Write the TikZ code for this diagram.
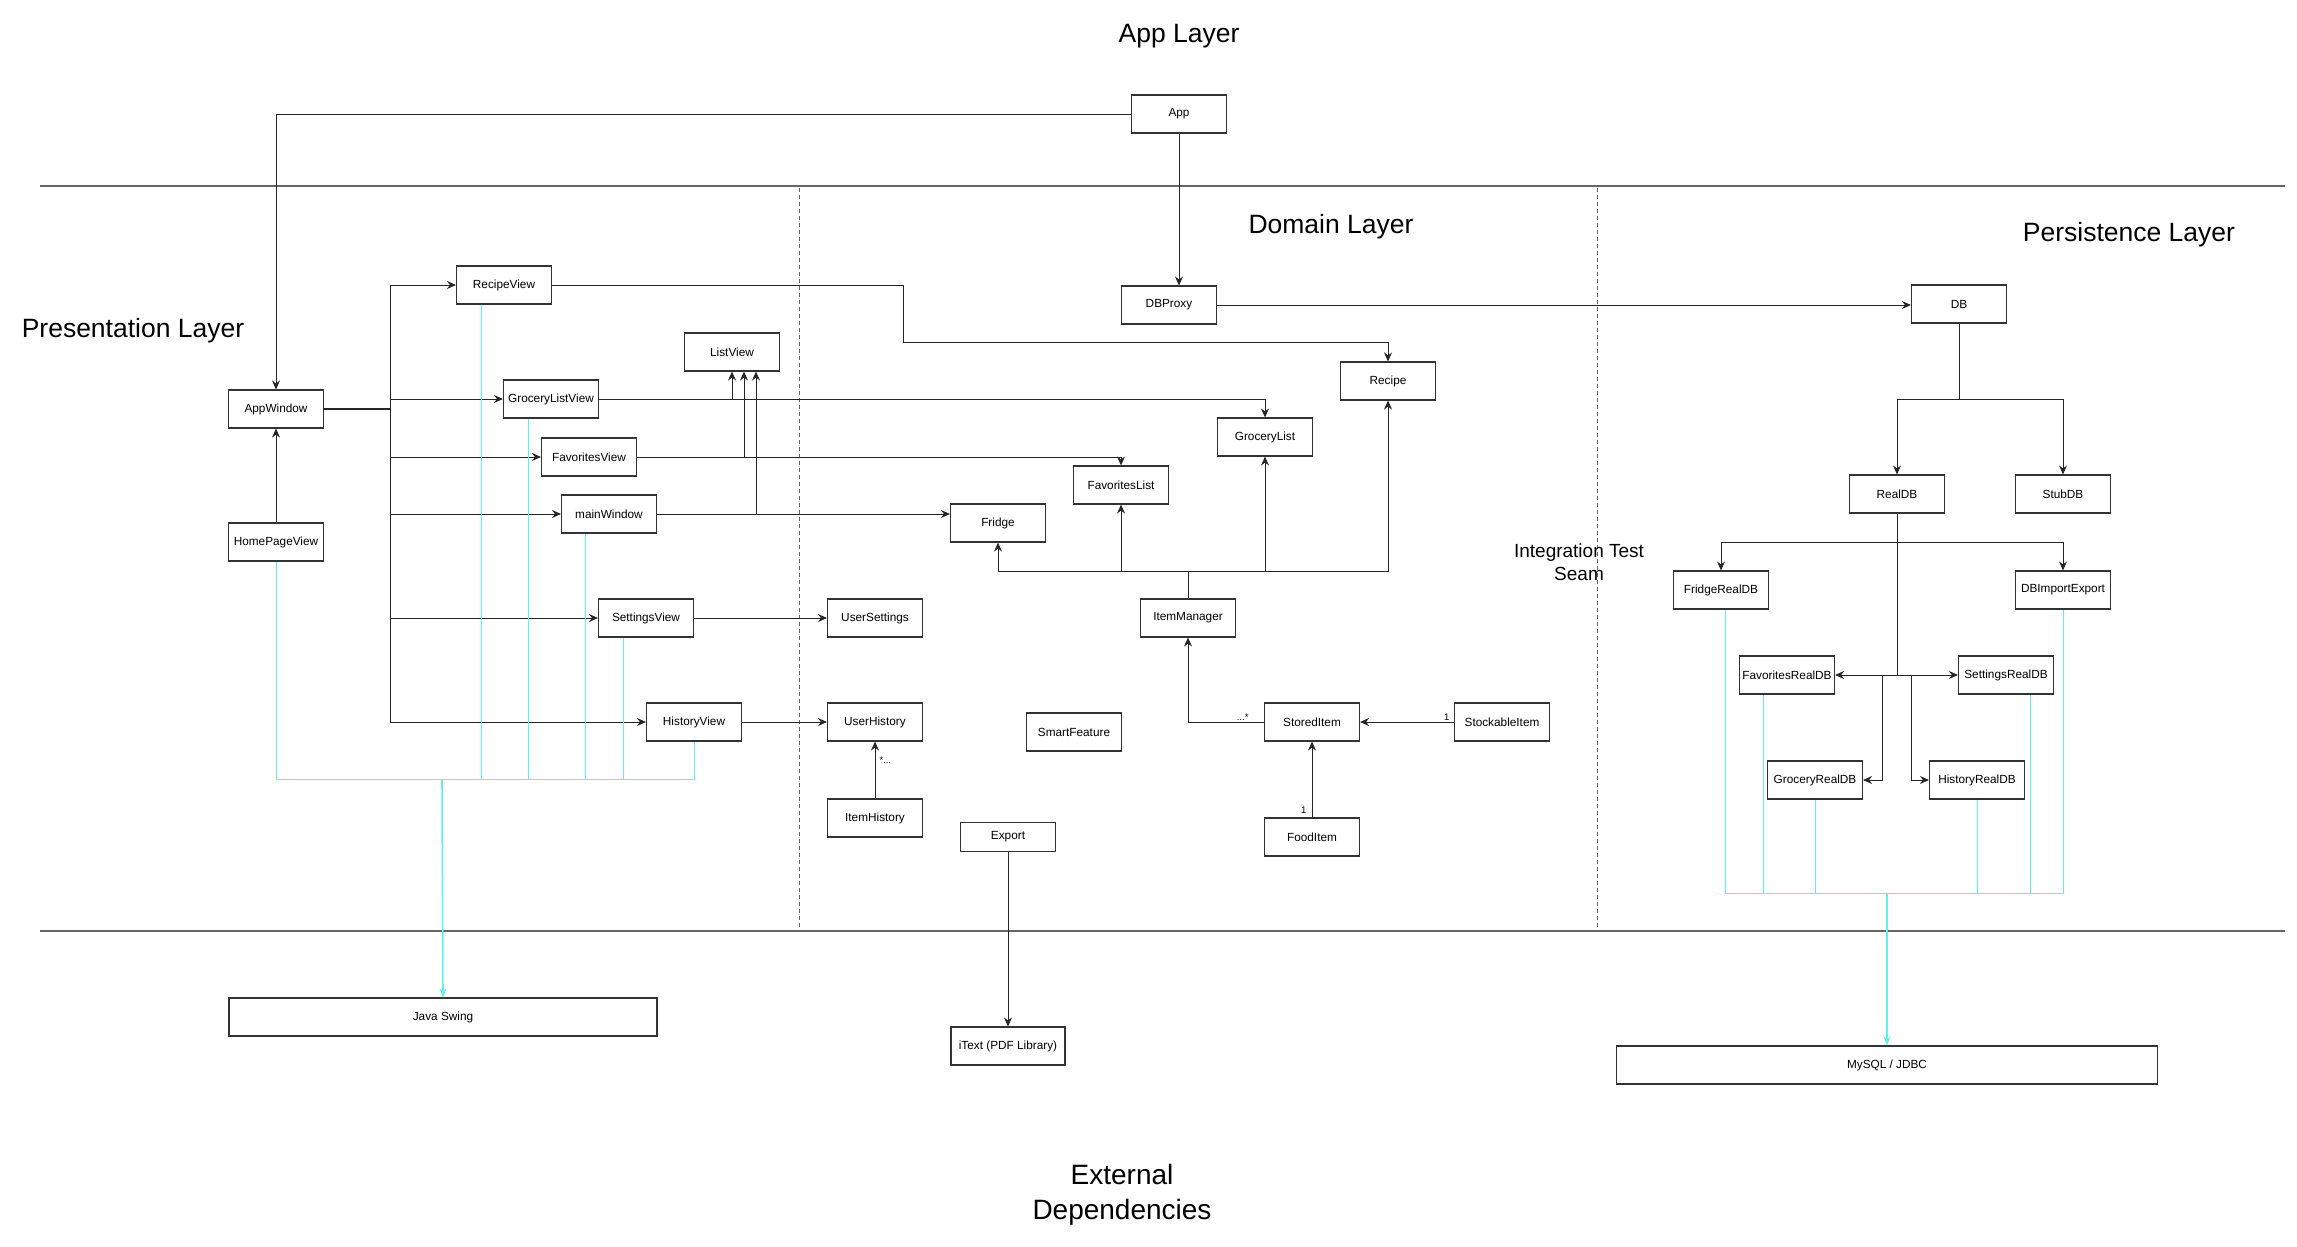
\documentclass[tikz,border=0pt]{standalone}
\usepackage{fontspec}
\setmainfont{Liberation Sans}
\usetikzlibrary{arrows.meta}
\definecolor{uicyan}{RGB}{95,240,240}
\tikzset{
  cls/.style={draw=black!80, line width=1.1pt, fill=white, minimum width=95pt,
    minimum height=38pt, inner sep=0pt, font=\fontsize{11.8}{13}\selectfont},
  wide/.style={cls, minimum width=#1},
  layer/.style={font=\fontsize{26.5}{32}\selectfont, align=center},
  seamtext/.style={font=\fontsize{19}{23}\selectfont, align=center},
  link/.style={draw=black!85, line width=1pt},
  dep/.style={link, -{Stealth[length=9pt,width=8pt,inset=3pt]}},
  ui/.style={draw=uicyan, line width=1pt},
  mult/.style={font=\fontsize{9.5}{10}\selectfont, inner sep=1pt},
  sep/.style={draw=black!60, line width=1.5pt},
  seam/.style={draw=black!60, line width=1pt, dash pattern=on 4pt off 3pt}
}

\begin{document}
\begin{tikzpicture}[x=1pt, y=-1pt]
\useasboundingbox (0,0) rectangle (2297,1247);

\draw[sep] (40,186) -- (2285,186);
\draw[sep] (40,931) -- (2285,931);
\draw[seam] (799,188) -- (799,929);
\draw[seam] (1597,188) -- (1597,929);

\node[layer] (applayer) at (1179,36) {App Layer};
\node[layer] (domlayer) at (1331,227) {Domain Layer};
\node[layer] (perlayer) at (2129,235) {Persistence Layer};
\node[layer] (prelayer) at (133,331) {Presentation Layer};
\node[seamtext] (seamlbl) at (1579,562) {Integration Test\\Seam};
\node[layer, font=\fontsize{28}{35}\selectfont] (extlayer) at (1122,1195) {External\\Dependencies};

% app
\node[cls] (app) at (1179,114) {App};

% presentation
\node[cls] (appwin) at (276,409) {AppWindow};
\node[cls] (homepage) at (276,542) {HomePageView};
\node[cls] (recipeview) at (504,285) {RecipeView};
\node[cls] (listview) at (732,352) {ListView};
\node[cls] (grocview) at (551,399) {GroceryListView};
\node[cls] (favview) at (589,457) {FavoritesView};
\node[cls] (mainwin) at (609,514) {mainWindow};
\node[cls] (settview) at (646,618) {SettingsView};
\node[cls] (histview) at (694,722) {HistoryView};

% domain
\node[cls] (dbproxy) at (1169,305) {DBProxy};
\node[cls] (recipe) at (1388,381) {Recipe};
\node[cls] (grocerylist) at (1265,437) {GroceryList};
\node[cls] (favlist) at (1121,485) {FavoritesList};
\node[cls] (fridge) at (998,523) {Fridge};
\node[cls] (usersettings) at (875,618) {UserSettings};
\node[cls] (itemmgr) at (1188,618) {ItemManager};
\node[cls] (userhistory) at (875,722) {UserHistory};
\node[cls] (smartfeature) at (1074,732) {SmartFeature};
\node[cls] (storeditem) at (1312,722) {StoredItem};
\node[cls] (stockable) at (1502,722) {StockableItem};
\node[cls] (itemhistory) at (875,818) {ItemHistory};
\node[cls, minimum height=29pt] (export) at (1008,837) {Export};
\node[cls] (fooditem) at (1312,837) {FoodItem};

% persistence
\node[cls] (db) at (1959,304) {DB};
\node[cls] (realdb) at (1897,494) {RealDB};
\node[cls] (stubdb) at (2063,494) {StubDB};
\node[cls] (fridgedb) at (1721,590) {FridgeRealDB};
\node[cls] (importexport) at (2063,590) {DBImportExport};
\node[cls] (favdb) at (1787,675) {FavoritesRealDB};
\node[cls] (settdb) at (2006,675) {SettingsRealDB};
\node[cls] (grocdb) at (1815,780) {GroceryRealDB};
\node[cls] (histdb) at (1977,780) {HistoryRealDB};

% external
\node[wide=428pt] (swing) at (443,1017) {Java Swing};
\node[wide=114pt] (itext) at (1008,1046) {iText (PDF Library)};
\node[wide=541pt] (mysql) at (1887,1065) {MySQL / JDBC};

\coordinate (pbus) at (390,409);
\coordinate (rbend) at (903,342);
\coordinate (ibus) at (1188,571);
\coordinate (dbsplit) at (1959,399);
\coordinate (rsplit) at (1897,542);
\coordinate (rhub) at (1897,675);
\coordinate (uibus) at (442,779);
\coordinate (dbbus) at (1887,893);

\draw[dep] (app.west) -| (appwin.north);
\draw[dep] (app.south) -- (app.south |- dbproxy.north);
\draw[dep] (homepage.north) -- (appwin.south);
\draw[link, line width=2pt] (appwin.east) -- (pbus);
\foreach \v in {recipeview,grocview,favview,mainwin,settview,histview}
  \draw[dep] (pbus) |- (\v.west);

\draw[dep] (recipeview.east) -| (rbend) -| (recipe.north);
\draw[dep] (grocview.east) -| (grocerylist.north);
\draw[dep] (grocview.east) -| (listview.south);
\draw[dep] (favview.east) -| (favlist.north);
\draw[dep] (favview.east) -| ([xshift=12pt]listview.south);
\draw[dep] (mainwin.east) -- (mainwin.east -| fridge.west);
\draw[dep] (mainwin.east) -| ([xshift=24pt]listview.south);
\draw[dep] (settview.east) -- (usersettings.west);
\draw[dep] (histview.east) -- (userhistory.west);
\draw[dep] (itemhistory.north) -- (userhistory.south)
  node[mult, anchor=north west, xshift=3pt, yshift=-14pt] {*...};

\draw[link] (itemmgr.north) -- (ibus);
\foreach \t in {fridge,favlist,grocerylist,recipe}
  \draw[dep] (ibus) -| (\t.south);
\draw[dep] (storeditem.west) node[mult, anchor=south east, xshift=-14pt] {...*} -| (itemmgr.south);
\draw[dep] (stockable.west) node[mult, anchor=south east, xshift=-3pt] {1} -- (storeditem.east);
\draw[dep] (fooditem.north) node[mult, anchor=south east, xshift=-4pt, yshift=2pt] {1} -- (storeditem.south);
\draw[dep] (export.south) -- (itext.north);

\draw[dep] (dbproxy.east) -- (dbproxy.east -| db.west);
\draw[link] (db.south) -- (dbsplit);
\draw[dep] (dbsplit) -| (realdb.north);
\draw[dep] (dbsplit) -| (stubdb.north);
\draw[link] (realdb.south) -- (rhub);
\draw[dep] (rsplit) -| (fridgedb.north);
\draw[dep] (rsplit) -| (importexport.north);
\draw[dep] (rhub) -- (favdb.east);
\draw[dep] (rhub) -- (settdb.west);
\draw[dep] ([xshift=-15pt]rhub) |- (grocdb.east);
\draw[dep] ([xshift=14pt]rhub) |- (histdb.west);

\draw[ui] (homepage.south) |- (uibus);
\draw[ui] (histview.south) |- (uibus);
\foreach \v/\dx in {recipeview/-23,grocview/-23,mainwin/-24,settview/-23}
  \draw[ui] ([xshift=\dx pt]\v.south) -- ([xshift=\dx pt]\v.south |- uibus);
\draw[ui, line width=1.6pt, -{Stealth[length=9pt,width=7pt,inset=3pt]}] (uibus) -- (swing.north);

\draw[ui] ([xshift=4pt]fridgedb.south) |- (dbbus);
\draw[ui] (importexport.south) |- (dbbus);
\foreach \v/\dx in {favdb/-24,grocdb/0,histdb/0,settdb/24}
  \draw[ui] ([xshift=\dx pt]\v.south) -- ([xshift=\dx pt]\v.south |- dbbus);
\draw[ui, line width=1.6pt, -{Stealth[length=9pt,width=7pt,inset=3pt]}] (dbbus) -- (mysql.north);
\end{tikzpicture}
\end{document}
